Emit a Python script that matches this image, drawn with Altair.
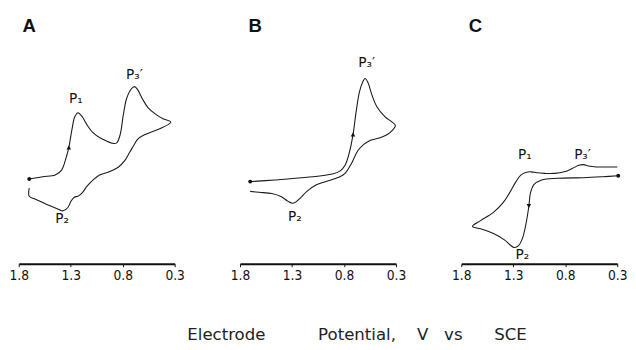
import altair as alt
import pandas as pd

# ---------------- data (potential V vs SCE, current in arbitrary units) ----------------
A_E = [1.699, 1.571, 1.449, 1.388, 1.343, 1.318, 1.291, 1.260, 1.230, 1.190, 1.145, 1.084,
       0.992, 0.885, 0.855, 0.824, 0.794, 0.763, 0.718, 0.687, 0.657, 0.611, 0.550, 0.474,
       0.413, 0.337, 0.413, 0.504, 0.596, 0.657, 0.687, 0.733, 0.779, 0.840, 0.931, 1.023,
       1.084, 1.145, 1.190, 1.230, 1.266, 1.297, 1.327, 1.373, 1.419, 1.510, 1.632, 1.699, 1.699]
A_I = [87, 89.3, 91, 96, 109.3, 119.3, 136, 151, 155, 151, 142.7, 134.3,
       127.7, 123.3, 124.3, 132.7, 152.7, 169.3, 179.3, 181.7, 178.7, 169.3, 159.3, 152.7,
       148.7, 145.3, 140, 136, 132, 127.7, 122.7, 114.3, 106, 99.3, 94.3, 91,
       86, 79.3, 72.7, 69.3, 68.3, 64.3, 57.7, 54.3, 56, 60, 66, 69.3, 77.7]

B_E = [1.702, 1.463, 1.157, 0.912, 0.836, 0.790, 0.744, 0.713, 0.683, 0.652, 0.622, 0.597,
       0.570, 0.530, 0.484, 0.407, 0.346, 0.306, 0.361, 0.453, 0.545, 0.606, 0.667, 0.729,
       0.790, 0.851, 0.974, 1.065, 1.157, 1.218, 1.264, 1.295, 1.341, 1.402, 1.494, 1.616, 1.702]
B_I = [84.3, 86, 88.7, 92, 95.3, 101, 116, 132.7, 156, 176, 186, 190,
       186, 172.7, 161, 151, 146, 142, 134.3, 129.3, 126.7, 122.7, 116, 102.7,
       92.7, 88.7, 84.3, 81, 74.3, 67.7, 63.3, 62, 64.3, 68.7, 72, 73.3, 74.3]

C_E = [0.291, 0.439, 0.625, 0.872, 1.027, 1.104, 1.135, 1.150, 1.181, 1.212, 1.249, 1.290,
       1.330, 1.382, 1.491, 1.599, 1.692, 1.614, 1.491, 1.398, 1.336, 1.274, 1.228, 1.181,
       1.126, 1.073, 0.996, 0.903, 0.810, 0.733, 0.671, 0.625, 0.578, 0.501, 0.408, 0.300]
C_I = [90.3, 89.3, 88.3, 87.7, 86, 81, 72.7, 59.3, 39.3, 26, 18.7, 16.7,
       19.3, 24.3, 31, 35.3, 38.3, 44.3, 52.7, 62.7, 72.7, 84.3, 91, 93.7,
       94.3, 93.3, 92.7, 92.7, 94.3, 97.7, 101, 101.7, 100.3, 99.3, 99.3, 99.3]

# start points of each scan
START = {"A": (1.699, 87), "B": (1.702, 84.3), "C": (0.291, 90.3)}
# scan-direction arrows: (E, I, shape)
ARROWS = {"A": (1.318, 119.3, "triangle-up"), "B": (0.713, 132.7, "triangle-up"),
          "C": (1.150, 59.3, "triangle-down")}
# peak labels
LABELS = {
    "A": [("P\u2081", 1.251, 169), ("P\u2083\u2032", 0.687, 194), ("P\u2082", 1.382, 46)],
    "B": [("P\u2083\u2032", 0.582, 206), ("P\u2082", 1.273, 48)],
    "C": [("P\u2081", 1.188, 111), ("P\u2083\u2032", 0.634, 111), ("P\u2082", 1.212, 9.3)],
}
PANEL_LETTER_E = {"A": 1.70, "B": 1.655, "C": 1.664}
PANEL_LETTER_I = 238
TICKS = [1.8, 1.3, 0.8, 0.3]

CURVES = {"A": (A_E, A_I), "B": (B_E, B_I), "C": (C_E, C_I)}

xscale = alt.Scale(domain=[1.8, 0.3], nice=False, zero=False)
yscale = alt.Scale(domain=[0, 256], nice=False, zero=False)
xaxis = alt.Axis(values=TICKS, format=".1f", title=None, grid=False, labelFlush=False,
                 domainColor="#111", domainWidth=2, tickColor="#111", tickSize=3,
                 labelFont="DejaVu Sans Condensed, Liberation Sans, sans-serif",
                 labelFontSize=14, labelColor="#111", labelPadding=2)


def enc(chart):
    return chart.encode(x=alt.X("E:Q", scale=xscale, axis=xaxis),
                        y=alt.Y("I:Q", scale=yscale, axis=None))


def panel(name):
    E, I = CURVES[name]
    df = pd.DataFrame({"E": E, "I": I, "k": list(range(len(E)))})
    line = enc(alt.Chart(df).mark_line(color="#1a1a1a", strokeWidth=1.1, clip=False,
                                       interpolate="catmull-rom")).encode(order="k:Q")
    s = START[name]
    sdf = pd.DataFrame({"E": [s[0]], "I": [s[1]]})
    start = enc(alt.Chart(sdf).mark_circle(color="#111", size=16, opacity=1))
    a = ARROWS[name]
    adf = pd.DataFrame({"E": [a[0]], "I": [a[1]]})
    arrow = enc(alt.Chart(adf).mark_point(shape=a[2], filled=True, color="#111", size=22,
                                          opacity=1))
    ldf = pd.DataFrame(LABELS[name], columns=["t", "E", "I"])
    labels = enc(alt.Chart(ldf).mark_text(font="DejaVu Sans", fontSize=14, color="#111",
                                          baseline="middle", align="center")).encode(text="t:N")
    pdf = pd.DataFrame({"t": [name], "E": [PANEL_LETTER_E[name]], "I": [PANEL_LETTER_I]})
    letter = enc(alt.Chart(pdf).mark_text(font="Liberation Sans", fontSize=19, fontWeight="bold",
                                          color="#111", baseline="alphabetic",
                                          align="center")).encode(text="t:N")
    return alt.layer(line, start, arrow, labels, letter).properties(width=160, height=256)


NB = "\u00a0"
TITLE = "Electrode" + NB * 10 + "Potential," + NB * 4 + "V" + NB * 3 + "vs" + NB * 6 + "SCE"

chart = alt.hconcat(panel("A"), panel("B"), panel("C"), spacing=45).properties(
    padding={"left": 0, "top": 2, "right": 0, "bottom": 0},
    title=alt.TitleParams(TITLE, orient="bottom",
                          anchor="middle", font="DejaVu Sans", fontSize=17,
                          fontWeight="normal", color="#222", offset=46, dx=40),
).configure_view(stroke=None)

chart.save("out.html", embed_options={"renderer": "svg", "actions": False})
